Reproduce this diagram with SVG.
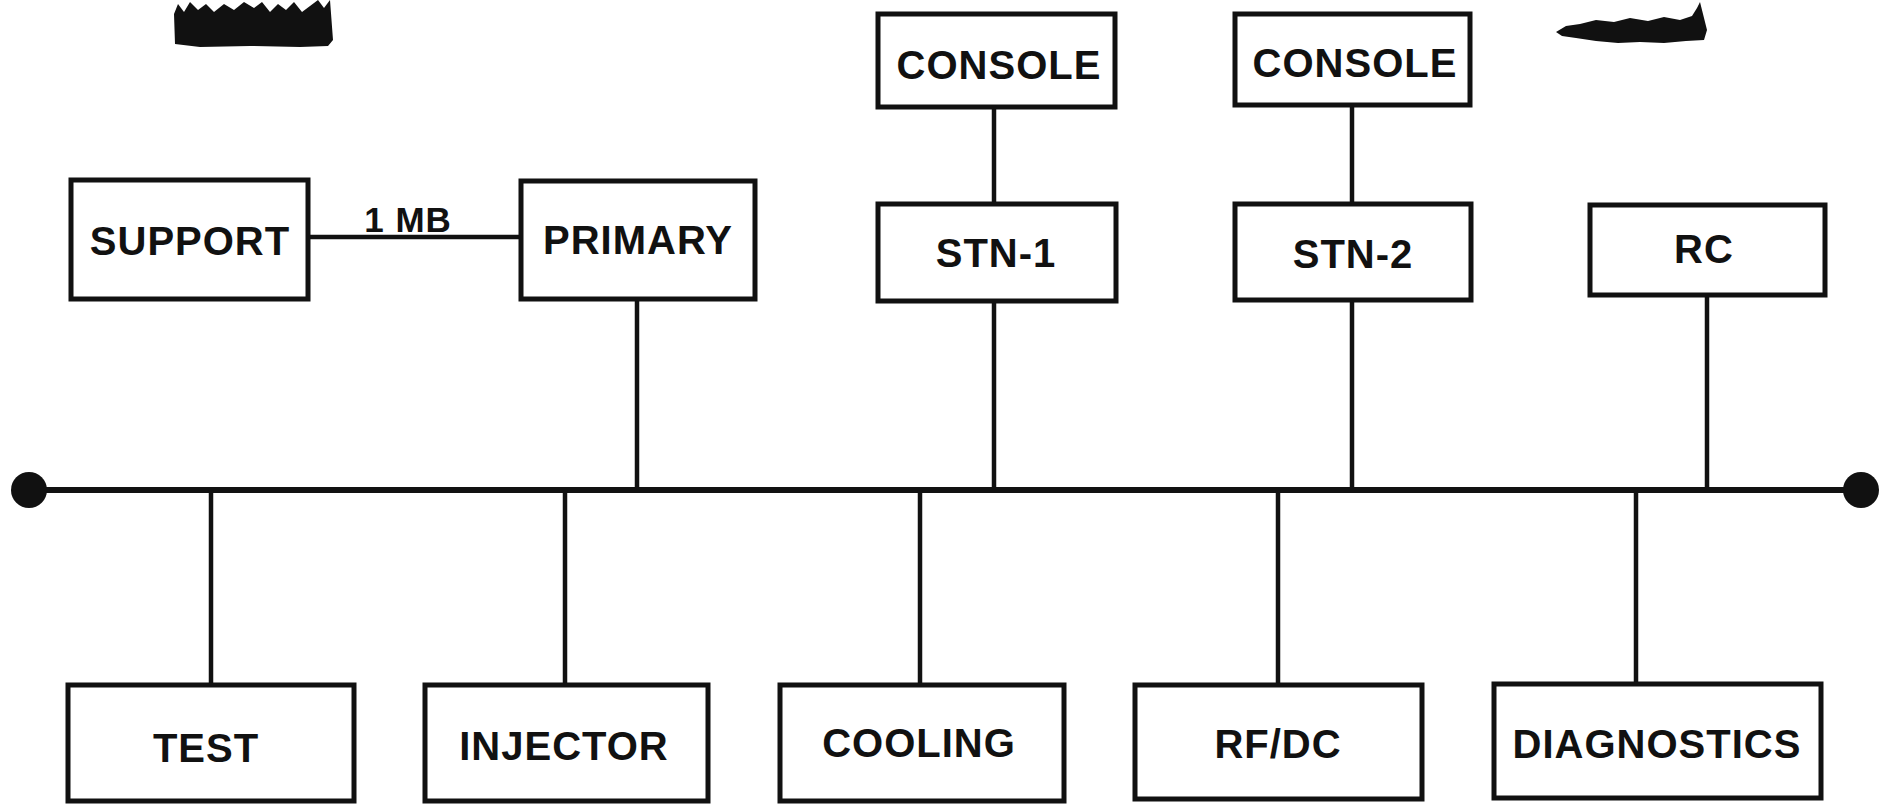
<svg xmlns="http://www.w3.org/2000/svg" width="1888" height="805" viewBox="0 0 1888 805">
<style>
.box{fill:#fff;stroke:#111;stroke-width:5}
.lbl{font-family:"Liberation Sans",Arial,sans-serif;font-weight:bold;font-size:40px;letter-spacing:1px;fill:#111;text-anchor:middle}
.wire{stroke:#111;stroke-width:4.5;fill:none}
.bus{stroke:#111;stroke-width:6;fill:none}
.blot{fill:#111}
</style>
<rect width="1888" height="805" fill="#fff"/>
<g id="artifacts">
<path class="blot" d="M175,44 L174,14 L178,4 L184,12 L190,2 L198,10 L206,4 L214,12 L224,4 L234,10 L244,2 L254,8 L262,2 L270,12 L278,4 L286,10 L294,2 L302,12 L310,6 L318,0 L324,8 L330,0 L333,40 L328,46 L300,47 L250,46 L200,47 Z"/>
<path class="blot" d="M1556,32 L1566,26 L1580,24 L1596,20 L1614,22 L1630,18 L1648,21 L1664,17 L1680,20 L1692,16 L1697,8 L1700,2 L1703,14 L1707,30 L1704,40 L1686,41 L1664,43 L1640,42 L1618,43 L1596,41 L1576,38 L1562,36 Z"/>
</g>
<g id="connectors">
<line class="wire" x1="310" y1="237" x2="519" y2="237"/>
<line class="wire" x1="637" y1="301" x2="637" y2="490"/>
<line class="wire" x1="994" y1="109" x2="994" y2="202"/>
<line class="wire" x1="994" y1="303" x2="994" y2="490"/>
<line class="wire" x1="1352" y1="107" x2="1352" y2="202"/>
<line class="wire" x1="1352" y1="302" x2="1352" y2="490"/>
<line class="wire" x1="1707" y1="297" x2="1707" y2="490"/>
<line class="bus" x1="29" y1="490" x2="1861" y2="490"/>
<circle cx="29" cy="490" r="18" fill="#111"/>
<circle cx="1861" cy="490" r="18" fill="#111"/>
<line class="wire" x1="211" y1="490" x2="211" y2="683"/>
<line class="wire" x1="565" y1="490" x2="565" y2="683"/>
<line class="wire" x1="920" y1="490" x2="920" y2="683"/>
<line class="wire" x1="1278" y1="490" x2="1278" y2="683"/>
<line class="wire" x1="1636" y1="490" x2="1636" y2="682"/>
<text class="lbl" x="408" y="232" style="font-size:35px">1 MB</text>
</g>
<g id="support"><rect class="box" x="71" y="180" width="237" height="119"/><text class="lbl" x="190" y="255">SUPPORT</text></g>
<g id="primary"><rect class="box" x="521" y="181" width="234" height="118"/><text class="lbl" x="638" y="254">PRIMARY</text></g>
<g id="console1"><rect class="box" x="878" y="14" width="237" height="93"/><text class="lbl" x="999" y="79">CONSOLE</text></g>
<g id="console2"><rect class="box" x="1235" y="14" width="235" height="91"/><text class="lbl" x="1355" y="77">CONSOLE</text></g>
<g id="stn1"><rect class="box" x="878" y="204" width="238" height="97"/><text class="lbl" x="996" y="267">STN-1</text></g>
<g id="stn2"><rect class="box" x="1235" y="204" width="236" height="96"/><text class="lbl" x="1353" y="268">STN-2</text></g>
<g id="rc"><rect class="box" x="1590" y="205" width="235" height="90"/><text class="lbl" x="1704" y="263">RC</text></g>
<g id="test"><rect class="box" x="68" y="685" width="286" height="116"/><text class="lbl" x="206" y="762">TEST</text></g>
<g id="injector"><rect class="box" x="425" y="685" width="283" height="116"/><text class="lbl" x="564" y="760">INJECTOR</text></g>
<g id="cooling"><rect class="box" x="780" y="685" width="284" height="116"/><text class="lbl" x="919" y="757">COOLING</text></g>
<g id="rfdc"><rect class="box" x="1135" y="685" width="287" height="114"/><text class="lbl" x="1278" y="758">RF/DC</text></g>
<g id="diagnostics"><rect class="box" x="1494" y="684" width="327" height="114"/><text class="lbl" x="1657" y="758">DIAGNOSTICS</text></g>
</svg>
